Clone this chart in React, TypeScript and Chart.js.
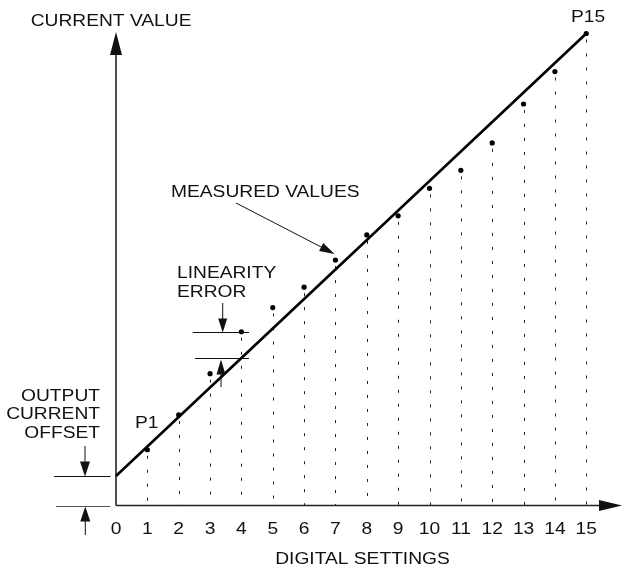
import { useEffect, useRef } from 'react';
import { Chart, registerables } from 'chart.js';
Chart.register(...registerables);

// Digital settings (x) and measured current values (y, arbitrary units)
const settings = [1, 2, 3, 4, 5, 6, 7, 8, 9, 10, 11, 12, 13, 14, 15];
const measured = [1.89, 3.07, 4.47, 5.89, 6.71, 7.4, 8.32, 9.17, 9.82, 10.75, 11.36, 12.29, 13.61, 14.71, 16.0];
// Ideal transfer line (offset at 0 to P15)
const idealX = [0, 15];
const idealY = [1, 16];
const tickValues = [0, 1, 2, 3, 4, 5, 6, 7, 8, 9, 10, 11, 12, 13, 14, 15];
const tickLabels = ['0', '1', '2', '3', '4', '5', '6', '7', '8', '9', '10', '11', '12', '13', '14', '15'];

const FONT = "16px 'Liberation Sans', Arial, Helvetica, sans-serif";
const SX = 1.2;

function text(ctx: CanvasRenderingContext2D, s: string, x: number, capCenterY: number, align: CanvasTextAlign) {
  ctx.save();
  ctx.font = FONT;
  ctx.fillStyle = '#111';
  ctx.textBaseline = 'alphabetic';
  ctx.textAlign = align;
  ctx.translate(x, capCenterY + 5.75);
  ctx.scale(SX, 1);
  ctx.fillText(s, 0, 0);
  ctx.restore();
}

function arrowHead(ctx: CanvasRenderingContext2D, tx: number, ty: number, dx: number, dy: number, len: number, hw: number) {
  const l = Math.hypot(dx, dy);
  const ux = dx / l, uy = dy / l;
  const bx = tx - ux * len, by = ty - uy * len;
  ctx.beginPath();
  ctx.moveTo(tx, ty);
  ctx.lineTo(bx - uy * hw, by + ux * hw);
  ctx.lineTo(bx + uy * hw, by - ux * hw);
  ctx.closePath();
  ctx.fill();
}

function line(ctx: CanvasRenderingContext2D, x1: number, y1: number, x2: number, y2: number) {
  ctx.beginPath();
  ctx.moveTo(x1, y1);
  ctx.lineTo(x2, y2);
  ctx.stroke();
}

const figurePlugin = {
  id: 'figure',
  beforeDatasetsDraw(chart: any) {
    const ctx: CanvasRenderingContext2D = chart.ctx;
    const xs = chart.scales.x, ys = chart.scales.y;
    const y0 = ys.getPixelForValue(0);
    ctx.save();
    // dotted verticals from each measured point to the axis
    ctx.strokeStyle = '#222';
    ctx.lineWidth = 1;
    ctx.setLineDash([3, 11]);
    settings.forEach((s, i) => {
      const px = Math.round(xs.getPixelForValue(s)) + 0.5;
      const py = ys.getPixelForValue(measured[i]);
      line(ctx, px, py + 6, px, y0);
    });
    ctx.setLineDash([]);
    // axes
    const x0 = xs.getPixelForValue(0);
    ctx.strokeStyle = '#222';
    ctx.fillStyle = '#111';
    ctx.lineWidth = 1.6;
    line(ctx, x0, y0, x0, chart.chartArea.top + 20);
    arrowHead(ctx, x0, chart.chartArea.top, 0, -1, 23, 6);
    line(ctx, x0, y0, chart.chartArea.right - 20, y0);
    arrowHead(ctx, chart.chartArea.right, y0, 1, 0, 23, 5.5);
    ctx.restore();
  },
  afterDatasetsDraw(chart: any) {
    const ctx: CanvasRenderingContext2D = chart.ctx;
    const xs = chart.scales.x, ys = chart.scales.y;
    const y0 = ys.getPixelForValue(0);
    ctx.save();
    // tick labels
    tickValues.forEach((v, i) => {
      text(ctx, tickLabels[i], xs.getPixelForValue(v), 528, 'center');
    });
    text(ctx, 'DIGITAL SETTINGS', 362.5, 558, 'center');
    text(ctx, 'CURRENT VALUE', 30.7, 20.7, 'left');
    text(ctx, 'P15', 588, 16.5, 'center');
    text(ctx, 'P1', 146.7, 422.5, 'center');
    text(ctx, 'MEASURED VALUES', 171, 191, 'left');
    text(ctx, 'LINEARITY', 177, 272.5, 'left');
    text(ctx, 'ERROR', 177, 291.7, 'left');
    text(ctx, 'OUTPUT', 100, 395.5, 'right');
    text(ctx, 'CURRENT', 100, 413.3, 'right');
    text(ctx, 'OFFSET', 100, 432, 'right');

    ctx.strokeStyle = '#111';
    ctx.fillStyle = '#111';
    ctx.lineWidth = 1;
    // measured values arrow
    line(ctx, 236, 203, 326, 249.5);
    arrowHead(ctx, 334.5, 254, 334.5 - 236, 254 - 203, 15, 4.5);

    // linearity error
    const yMeas4 = Math.round(ys.getPixelForValue(measured[3])) + 0.5;
    const yIdeal4 = Math.round(ys.getPixelForValue(idealY[0] + 4 * (idealY[1] - idealY[0]) / (idealX[1] - idealX[0]))) + 0.5;
    line(ctx, 192.7, yMeas4, 249, yMeas4);
    line(ctx, 195, yIdeal4, 249, yIdeal4);
    line(ctx, 222.7, 303, 222.7, yMeas4 - 12);
    arrowHead(ctx, 222.7, yMeas4, 0, 1, 14, 4.5);
    line(ctx, 221, yIdeal4 + 12, 221, 387);
    arrowHead(ctx, 221, yIdeal4 + 1, 0, -1, 15, 4.5);

    // output current offset
    const yOff = Math.round(ys.getPixelForValue(idealY[0])) + 0.5;
    line(ctx, 54, yOff, 110.5, yOff);
    ctx.strokeStyle = '#555';
    line(ctx, 56, Math.round(y0) + 0.5, 110.5, Math.round(y0) + 0.5);
    ctx.strokeStyle = '#111';
    line(ctx, 85, 446, 85, yOff - 12);
    arrowHead(ctx, 85, yOff, 0, 1, 15, 5);
    line(ctx, 85.3, y0 + 12, 85.3, 535);
    arrowHead(ctx, 85.3, y0 + 1, 0, -1, 15, 5);
    ctx.restore();
  },
};

export default function App() {
  const ref = useRef<HTMLCanvasElement>(null);
  useEffect(() => {
    const canvas = ref.current!;
    const chart = new Chart(canvas, {
      type: 'scatter',
      data: {
        datasets: [
          {
            type: 'line',
            data: idealX.map((x, i) => ({ x, y: idealY[i] })),
            borderColor: '#000',
            borderWidth: 2.6,
            pointRadius: 0,
            fill: false,
            clip: false,
          } as any,
          {
            type: 'scatter',
            data: settings.map((x, i) => ({ x, y: measured[i] })),
            pointRadius: 2.6,
            backgroundColor: '#000',
            borderWidth: 0,
            clip: false,
          } as any,
        ],
      },
      options: {
        responsive: false,
        animation: false,
        devicePixelRatio: 1,
        events: [],
        layout: { padding: { left: 116, right: 0, top: 32, bottom: 65.5 } },
        scales: {
          x: { type: 'linear', display: false, min: 0, max: 16.14 },
          y: { type: 'linear', display: false, min: 0, max: 16.05 },
        },
        plugins: { legend: { display: false }, tooltip: { enabled: false } },
      },
      plugins: [figurePlugin],
    });
    return () => chart.destroy();
  }, []);
  return (
    <div style={{ position: 'absolute', left: 0, top: 0, width: 626, height: 571, background: '#fff' }}>
      <canvas ref={ref} width={626} height={571} style={{ display: 'block', width: 626, height: 571 }} />
    </div>
  );
}
